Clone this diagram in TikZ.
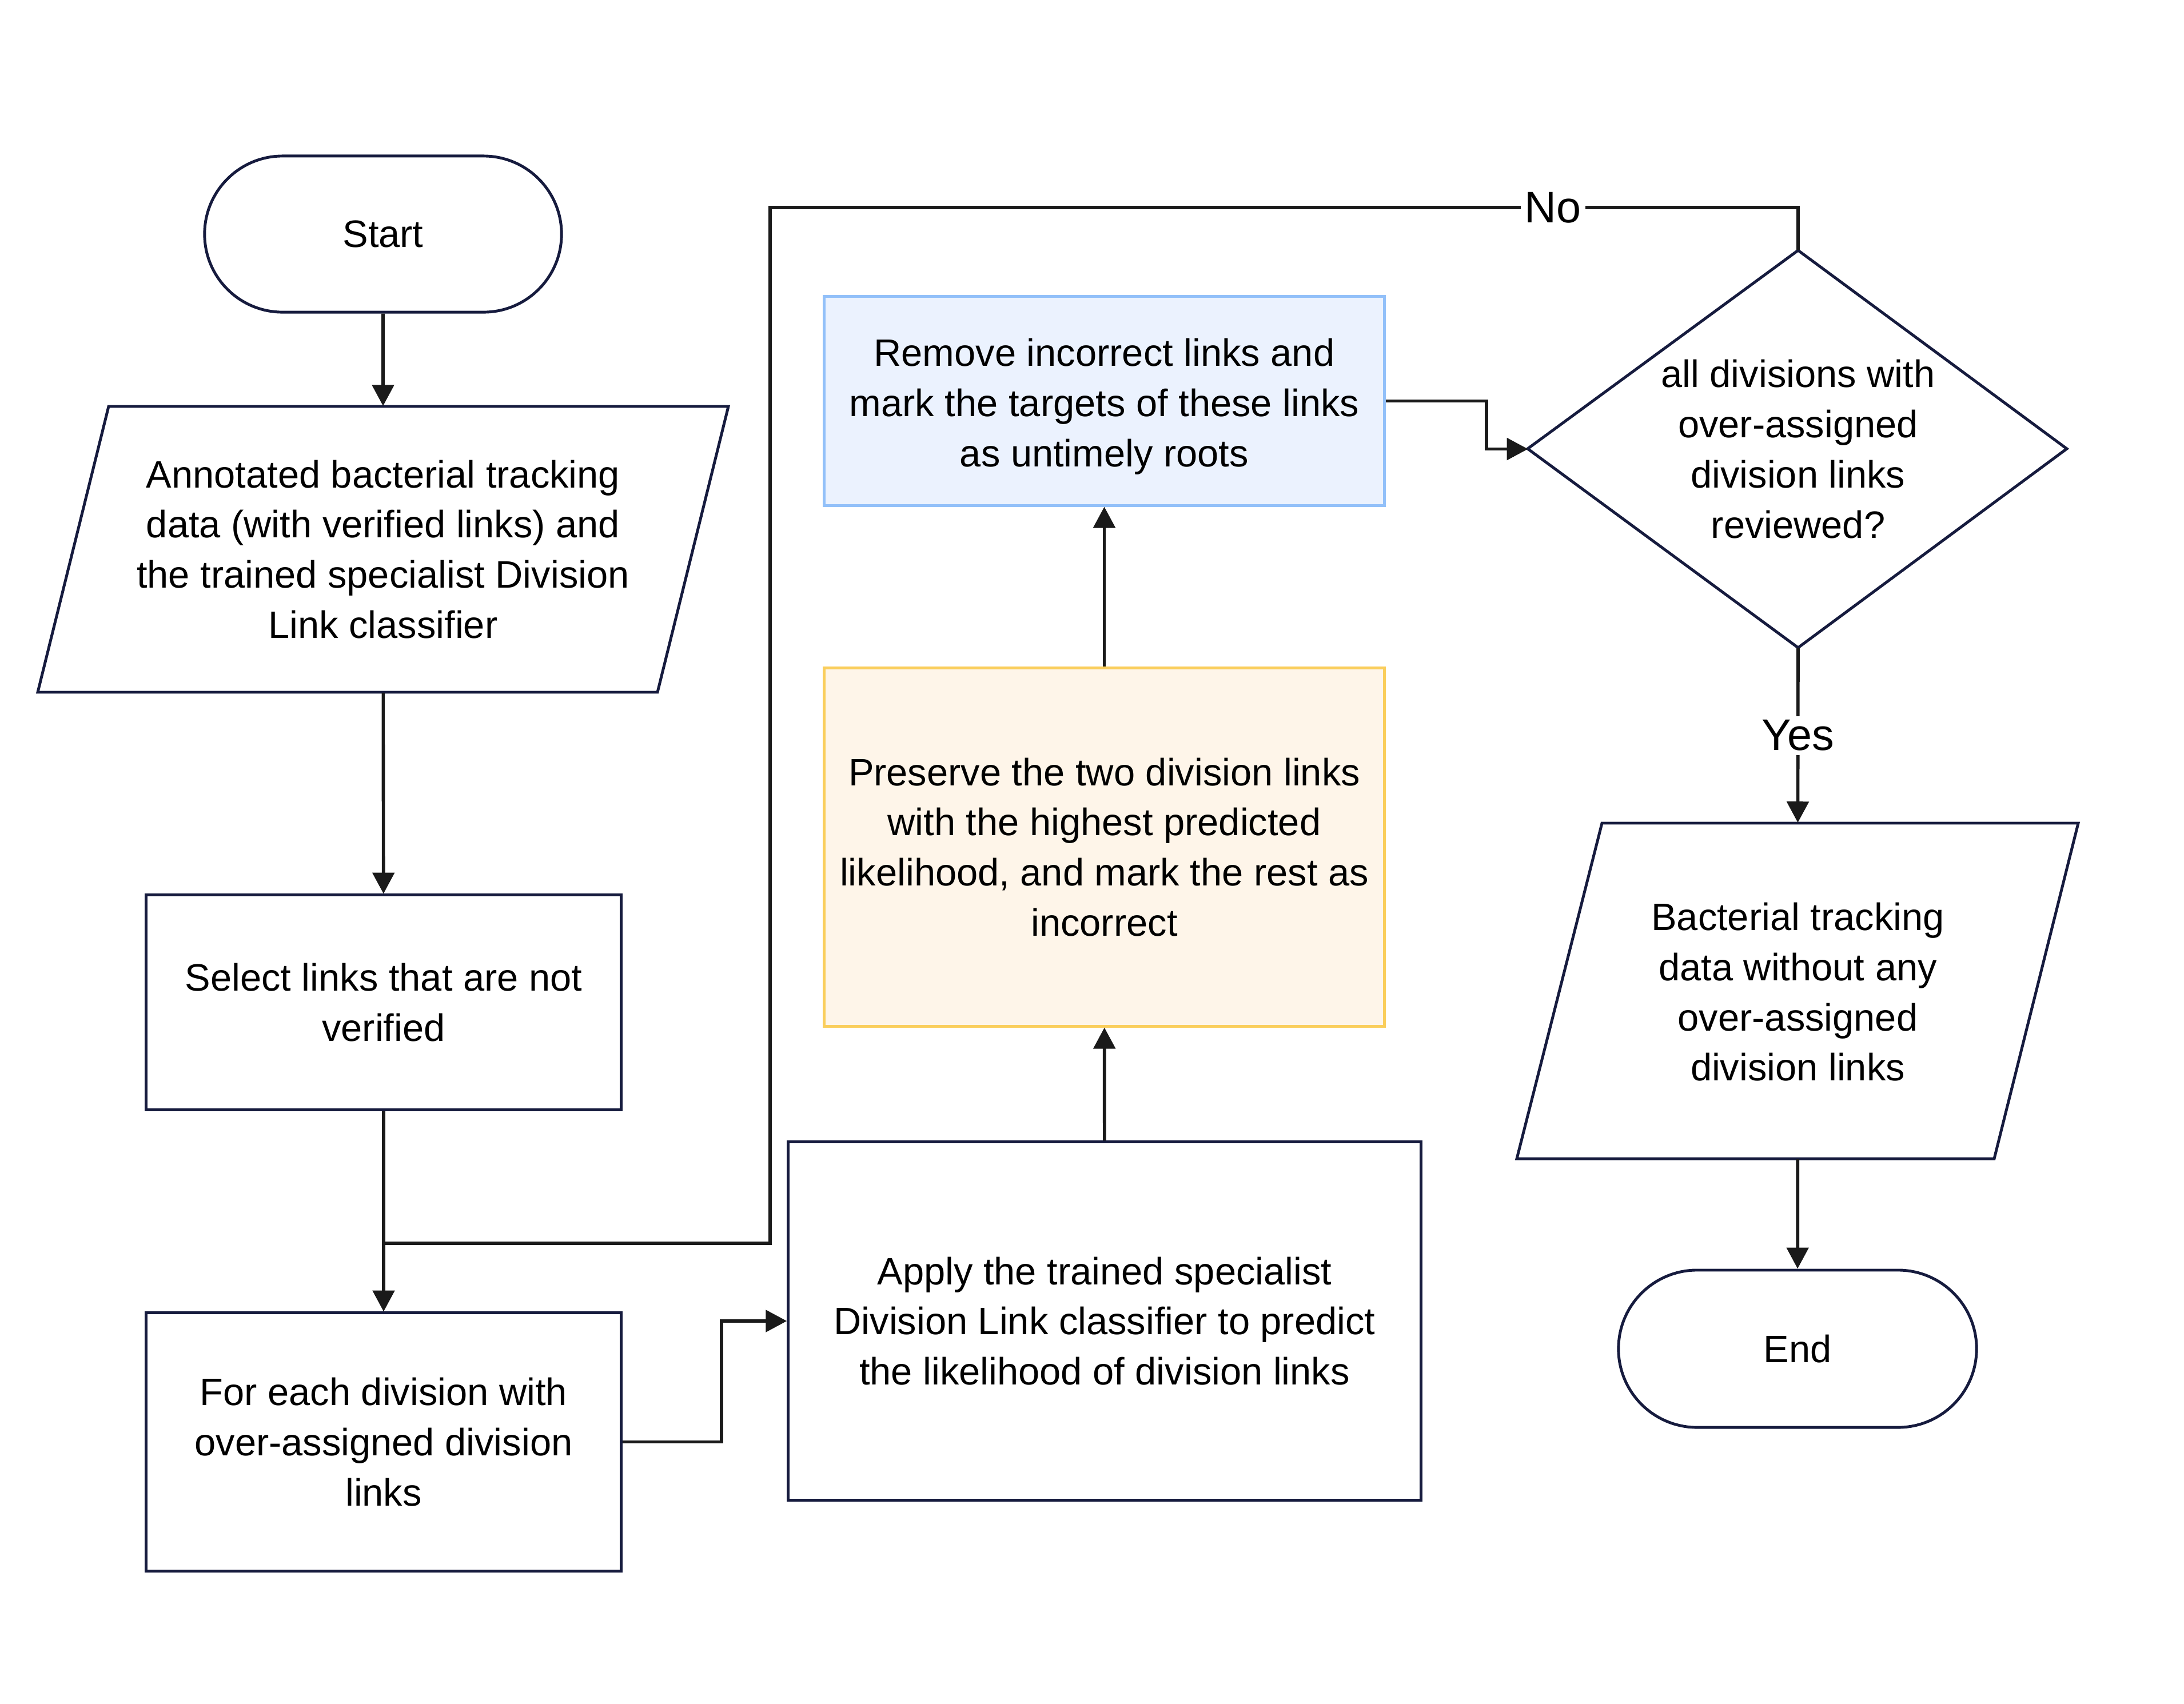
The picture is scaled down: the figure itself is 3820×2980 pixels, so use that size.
\documentclass[tikz,border=0pt]{standalone}
\usepackage{fontspec}
\setmainfont{Liberation Sans}
\usetikzlibrary{arrows.meta,calc,shapes.misc}
\definecolor{navy}{RGB}{22,27,62}
\definecolor{ink}{RGB}{26,26,26}
\definecolor{bluefill}{RGB}{235,242,254}
\definecolor{blueline}{RGB}{146,192,249}
\definecolor{ambfill}{RGB}{254,245,233}
\definecolor{ambline}{RGB}{250,206,92}
% lower a block of centred lines without changing the space it takes
\newcommand{\lowerlines}[2]{\raisebox{-#1}[\height][\depth]{\begin{tabular}{@{}c@{}}#2\end{tabular}}}
\begin{document}
\begin{tikzpicture}[x=0.01cm,y=-0.01cm,
  font=\fontsize{19}{25}\selectfont,
  base/.style={align=center, inner sep=0pt, rectangle},
  procbox/.style={base, draw=navy, fill=white, line width=1.4pt},
  termbox/.style={procbox, rounded rectangle},
  textonly/.style={base},
  outline/.style={draw=navy, line width=1.4pt, fill=white, line join=miter},
  line/.style={draw=ink, line width=1.6pt},
  arr/.style={line, -{Triangle[length=10.5pt,width=10.8pt]}},
  lbl/.style={fill=white, inner sep=2pt, font=\fontsize{22}{26}\selectfont}]
\useasboundingbox (0,0) rectangle (3820,2980);

% terminals
\node[termbox, minimum width=6.24cm, minimum height=2.73cm] (start) at (670,409.5) {Start};
\node[termbox, minimum width=6.26cm, minimum height=2.75cm] (end) at (3144,2359.5) {End};

% input parallelogram
\path[outline] (190,711) -- (1274,711) -- (1150,1211) -- (66,1211) -- cycle;
\node[textonly, minimum width=10.84cm, minimum height=5cm] (in) at (670,961)
  {Annotated bacterial tracking\\data (with verified links) and\\the trained specialist Division\\Link classifier};

% process boxes
\node[procbox, minimum width=8.3cm, minimum height=3.75cm] (sel) at (671,1753.5)
  {Select links that are not\\verified};
\node[procbox, minimum width=8.3cm, minimum height=4.51cm] (each) at (671,2522.5)
  {For each division with\\over-assigned division\\links};
\node[procbox, minimum width=11.06cm, minimum height=6.26cm] (apply) at (1932,2311)
  {Apply the trained specialist\\Division Link classifier to predict\\the likelihood of division links};
\node[base, draw=ambline, fill=ambfill, line width=1.4pt, minimum width=9.79cm, minimum height=6.26cm] (pres) at (1931.5,1482)
  {Preserve the two division links\\with the highest predicted\\likelihood, and mark the rest as\\incorrect};
\node[base, draw=blueline, fill=bluefill, line width=1.4pt, minimum width=9.79cm, minimum height=3.65cm] (rem) at (1931.5,701.5)
  {\lowerlines{0.09cm}{Remove incorrect links and\\mark the targets of these links\\as untimely roots}};

% decision
\path[outline] (3145,438) -- (3615,785) -- (3145,1133) -- (2672,785) -- cycle;
\node[textonly, minimum width=9.43cm, minimum height=6.95cm] (dec) at (3145,785.5)
  {all divisions with\\over-assigned\\division links\\reviewed?};

% output parallelogram
\path[outline] (2802,1440) -- (3635,1440) -- (3488,2027) -- (2653,2027) -- cycle;
\node[textonly, minimum width=8.34cm, minimum height=5.87cm] (out) at (3144.5,1733.5)
  {\lowerlines{0.08cm}{Bacterial tracking\\data without any\\over-assigned\\division links}};

% connectors
\draw[arr] (start) -- (in);
\draw[arr] (in) -- (sel);
\draw[arr] (sel) -- (each);
\draw[arr] (each.east) -- ++(173,0) |- (apply.west);
\draw[arr] (apply) -- (pres);
\draw[arr] (pres) -- (rem);
\draw[arr] (rem.east) -- ++(176,0) |- (dec.west);

% loop back when not all divisions are reviewed
\coordinate (loopTop) at (1347,363);
\coordinate (loopBot) at (1347,2175);
\coordinate (join) at (sel.south |- loopBot);
\draw[line, line join=miter] (dec.north) |- (loopTop) -- (loopBot) -- (join);
\node[lbl] (no) at (2716,363) {No};

\draw[arr] (dec.south) -- node[lbl, pos=0.5] (yes) {Yes} (out.north);
\draw[arr] (out) -- (end);
\end{tikzpicture}
\end{document}
